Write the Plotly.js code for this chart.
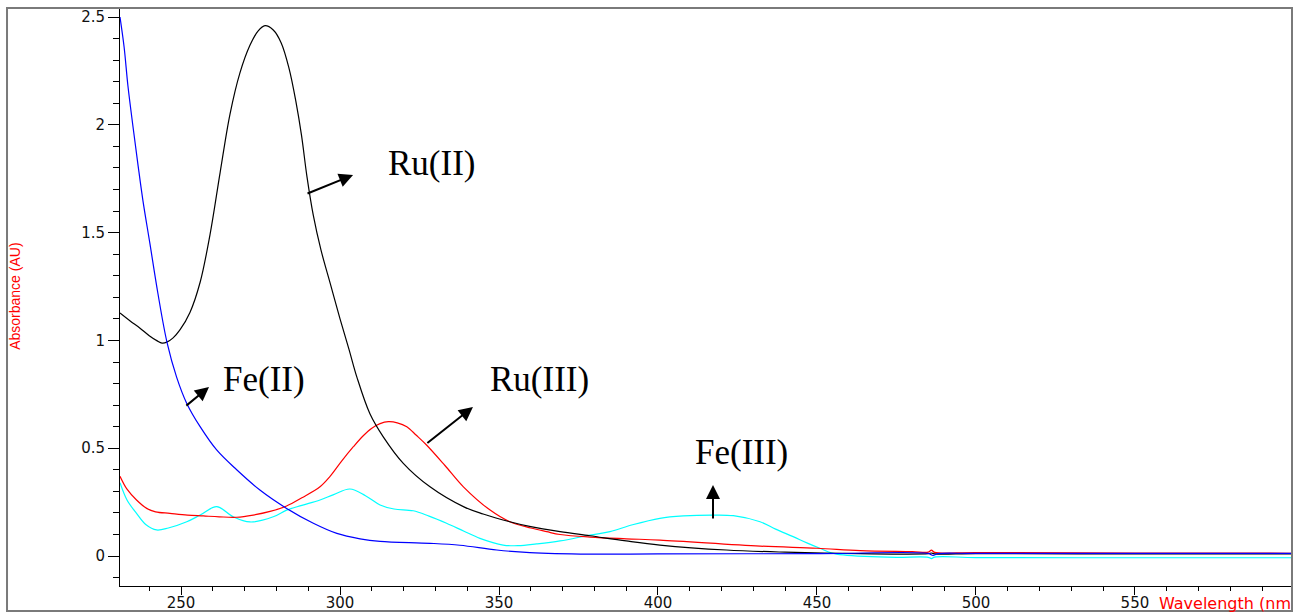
<!DOCTYPE html>
<html>
<head>
<meta charset="utf-8">
<script src="https://cdn.plot.ly/plotly-3.0.1.min.js"></script>
<style>
  html, body { margin: 0; padding: 0; background: #fff; }
  #chart { width: 1305px; height: 614px; }
</style>
</head>
<body>
<div id="chart"></div>
<script>
// UV-Vis absorption spectra of the four complexes (wavelength in nm, absorbance in AU)

const ruIIWl  = [230.8, 234, 237, 240, 242.5, 244, 245.5, 247.5, 249.7, 252.8, 256, 259.1, 262.3, 265.4, 268.5, 271.7, 274.2, 276.4, 279, 281.5, 284, 286.1, 287.9, 289.6, 291.6, 294, 297, 300, 302.8, 305.3, 309.4, 313.6, 319.9, 328.3, 338.8, 345, 353.4, 360, 369.2, 378.6, 390, 400.6, 421.5, 440, 463.6, 485, 486, 487, 500, 550, 599.4];
const ruIIAbs = [1.127, 1.09, 1.058, 1.022, 0.998, 0.988, 0.992, 1.012, 1.05, 1.13, 1.27, 1.49, 1.78, 2.05, 2.24, 2.37, 2.435, 2.46, 2.44, 2.38, 2.26, 2.11, 1.95, 1.76, 1.58, 1.42, 1.26, 1.1, 0.96, 0.83, 0.66, 0.553, 0.43, 0.321, 0.229, 0.195, 0.159, 0.136, 0.113, 0.094, 0.07, 0.051, 0.028, 0.018, 0.011, 0.011, 0.014, 0.01, 0.011, 0.01, 0.01];

const feIIWl  = [230.8, 232.1, 233.3, 234.9, 236.5, 238.0, 240.2, 242.7, 245.6, 248.6, 251.8, 256, 261.2, 267.5, 274.8, 283.2, 291.6, 299.0, 306.3, 312.6, 328.3, 337.7, 349.3, 359.7, 378.6, 400, 450, 485, 486.5, 488, 500, 599.4];
const feIIAbs = [2.5, 2.36, 2.18, 1.99, 1.81, 1.65, 1.45, 1.22, 0.99, 0.83, 0.708, 0.6, 0.492, 0.40, 0.306, 0.221, 0.152, 0.105, 0.08, 0.068, 0.059, 0.05, 0.028, 0.016, 0.009, 0.01, 0.011, 0.012, 0.003, 0.011, 0.012, 0.012];

const ruIIIWl  = [230.8, 233, 236, 239.2, 242, 246.5, 252, 257, 262, 267.5, 272.7, 278, 283.2, 288, 293.7, 296.8, 300.5, 304.2, 307.3, 310, 312.6, 315.2, 318, 321, 324, 327.2, 333, 338.8, 347.2, 353.4, 360, 365, 369.2, 378.6, 390, 400.6, 432.1, 450, 463.6, 480, 485, 486, 487, 500, 550, 599.4];
const ruIIIAbs = [0.37, 0.31, 0.26, 0.221, 0.205, 0.198, 0.19, 0.186, 0.182, 0.18, 0.19, 0.207, 0.232, 0.27, 0.321, 0.368, 0.44, 0.507, 0.558, 0.593, 0.614, 0.623, 0.618, 0.6, 0.56, 0.515, 0.42, 0.321, 0.213, 0.159, 0.13, 0.113, 0.1, 0.088, 0.08, 0.074, 0.046, 0.036, 0.025, 0.02, 0.018, 0.027, 0.017, 0.016, 0.014, 0.013];

const feIIIWl  = [230.8, 233, 236, 239, 242.3, 246, 251.8, 256, 261.2, 266.4, 271.7, 279, 283.2, 288, 293.7, 298, 303.1, 308, 312.6, 317, 323, 328, 333.5, 339, 344, 351.3, 356, 361.8, 369.2, 378.6, 384.9, 392, 400.6, 408, 417.4, 423.7, 432.1, 437, 442.5, 447, 450.9, 454.5, 458.3, 465, 475, 485, 486, 487, 500, 550, 599.4];
const feIIIAbs = [0.34, 0.26, 0.198, 0.145, 0.121, 0.13, 0.159, 0.19, 0.229, 0.182, 0.158, 0.182, 0.213, 0.235, 0.26, 0.285, 0.311, 0.28, 0.237, 0.218, 0.21, 0.185, 0.152, 0.115, 0.082, 0.051, 0.048, 0.056, 0.07, 0.097, 0.113, 0.145, 0.175, 0.186, 0.19, 0.187, 0.159, 0.125, 0.09, 0.06, 0.036, 0.015, 0.005, -0.002, -0.006, -0.006, -0.012, -0.005, -0.007, -0.008, -0.008];

// Labelled arrows: [text, text x, text y, arrow tail x, tail y, arrow tip x, tip y]
const labels = [
  ['Ru(II)',  314.4, 1.819, 289.3, 1.679, 304.1, 1.767],
  ['Fe(II)',  262.6, 0.819, 251.2, 0.692, 258.8, 0.784],
  ['Ru(III)', 346.5, 0.819, 327.0, 0.519, 341.8, 0.691],
  ['Fe(III)', 411.0, 0.480, 417.3, 0.167, 417.3, 0.329]
];

function spectrum(x, y, color) {
  return {
    x: x, y: y, type: 'scatter', mode: 'lines',
    line: { color: color, width: 1.2, shape: 'spline', smoothing: 1 },
    hoverinfo: 'skip'
  };
}

const traces = [
  spectrum(feIIIWl, feIIIAbs, '#00ffff'),
  spectrum(ruIIIWl, ruIIIAbs, '#ff0000'),
  spectrum(ruIIWl, ruIIAbs, '#000000'),
  spectrum(feIIWl, feIIAbs, '#0000ff')
];

const annotations = [];
labels.forEach(function (l) {
  annotations.push({
    xref: 'x', yref: 'y', x: l[1], y: l[2], text: l[0],
    showarrow: false, xanchor: 'left', yanchor: 'middle',
    font: { family: 'Liberation Serif, Times New Roman, serif', size: 35, color: '#000' }
  });
  annotations.push({
    xref: 'x', yref: 'y', axref: 'x', ayref: 'y',
    x: l[5], y: l[6], ax: l[3], ay: l[4], text: '',
    showarrow: true, arrowhead: 2, arrowsize: 1.4, arrowwidth: 2, arrowcolor: '#000'
  });
});

annotations.push({
  xref: 'paper', yref: 'paper', x: -0.0896, y: 0.502,
  text: 'Absorbance (AU)', textangle: -90, showarrow: false,
  xanchor: 'center', yanchor: 'middle',
  font: { family: 'Liberation Sans, Arial, sans-serif', size: 14, color: '#ff0000' }
});
annotations.push({
  xref: 'paper', yref: 'paper', x: 0.8848, y: -0.031,
  text: 'Wavelength (nm', showarrow: false,
  xanchor: 'left', yanchor: 'middle',
  font: { family: 'DejaVu Sans, sans-serif', size: 16, color: '#ff0000' }
});

const layout = {
  width: 1305, height: 614,
  margin: { l: 120, r: 13, t: 8, b: 28, pad: 0 },
  paper_bgcolor: '#ffffff', plot_bgcolor: '#ffffff',
  showlegend: false,
  xaxis: {
    range: [230.8, 599.4], tick0: 250, dtick: 50,
    ticks: 'outside', ticklen: 8, tickwidth: 1, tickcolor: '#000',
    minor: { dtick: 10, ticks: 'outside', ticklen: 4, tickcolor: '#000' },
    showline: true, linecolor: '#000', linewidth: 1,
    showgrid: false, zeroline: false, ticklabelstandoff: -5,
    tickfont: { family: 'DejaVu Sans, sans-serif', size: 15, color: '#111' }
  },
  yaxis: {
    range: [-0.139, 2.542], tick0: 0, dtick: 0.5,
    ticks: 'outside', ticklen: 11, tickwidth: 1, tickcolor: '#000',
    minor: { dtick: 0.1, ticks: 'outside', ticklen: 6, tickcolor: '#000' },
    showline: true, linecolor: '#000', linewidth: 1,
    showgrid: false, zeroline: false,
    tickfont: { family: 'DejaVu Sans, sans-serif', size: 15, color: '#111' }
  },
  shapes: [{
    type: 'rect', xref: 'paper', yref: 'paper',
    x0: -0.0964, x1: 1, y0: -0.0433, y1: 1,
    line: { color: '#7a7a7a', width: 2 }
  }],
  annotations: annotations
};

Plotly.newPlot('chart', traces, layout, { staticPlot: true, displayModeBar: false });
</script>
</body>
</html>
